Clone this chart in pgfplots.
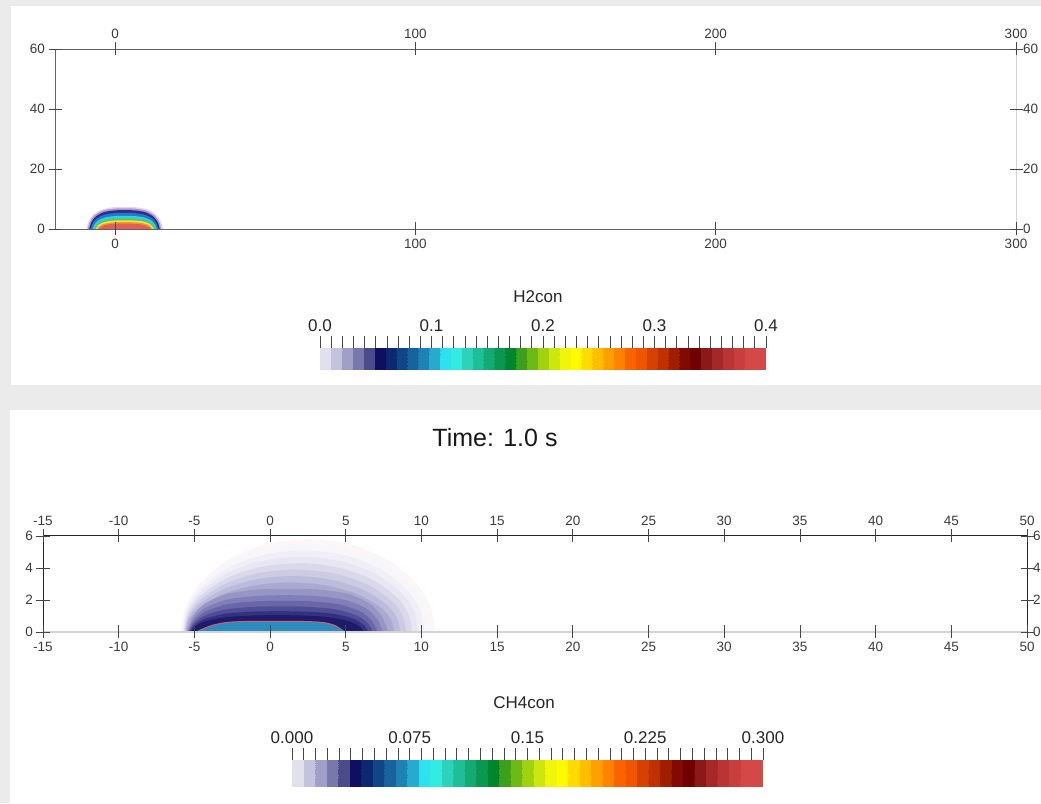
\documentclass[border=0pt]{standalone}
\usepackage{pgfplots}
\pgfplotsset{compat=1.18}
\usepackage{fontspec}
\setmainfont{Liberation Sans}
\usetikzlibrary{calc}

\definecolor{panelbg}{RGB}{235,235,235}
\definecolor{ticktext}{RGB}{60,60,60}
\definecolor{tickcol}{RGB}{70,70,70}
\definecolor{frameA}{RGB}{100,100,100}
\definecolor{frameB}{RGB}{210,210,210}
\definecolor{frameC}{RGB}{35,35,35}

% H2 plume bands (outer to inner)
\definecolor{hA}{RGB}{232,215,235}
\definecolor{hB}{RGB}{170,150,205}
\definecolor{hC}{RGB}{45,45,140}
\definecolor{hD}{RGB}{35,120,200}
\definecolor{hE}{RGB}{45,210,235}
\definecolor{hF}{RGB}{90,195,110}
\definecolor{hG}{RGB}{245,230,40}
\definecolor{hH}{RGB}{250,150,40}
\definecolor{hI}{RGB}{225,95,90}

% CH4 plume bands (outer to inner)
\definecolor{c0}{RGB}{252,246,247}
\definecolor{c1}{RGB}{247,246,251}
\definecolor{c2}{RGB}{240,239,247}
\definecolor{c3}{RGB}{231,230,242}
\definecolor{c4}{RGB}{218,217,236}
\definecolor{c5}{RGB}{204,203,228}
\definecolor{c6}{RGB}{188,187,219}
\definecolor{c7}{RGB}{170,169,208}
\definecolor{c8}{RGB}{150,149,196}
\definecolor{c9}{RGB}{128,127,183}
\definecolor{c10}{RGB}{104,103,168}
\definecolor{c11}{RGB}{78,77,150}
\definecolor{c12}{RGB}{52,50,128}
\definecolor{c13}{RGB}{30,28,105}
\definecolor{cblue}{RGB}{45,140,190}
\definecolor{cline}{RGB}{210,95,120}

\pgfplotsset{
  colormap={pvrainbow}{
    rgb255=(225,225,237) rgb255=(195,195,220) rgb255=(160,160,198) rgb255=(120,120,172)
    rgb255=(75,75,138)   rgb255=(15,15,95)    rgb255=(12,40,112)   rgb255=(16,70,135)
    rgb255=(22,100,158)  rgb255=(30,130,180)  rgb255=(38,170,208)  rgb255=(45,225,238)
    rgb255=(50,235,225)  rgb255=(45,210,185)  rgb255=(30,190,150)  rgb255=(20,170,115)
    rgb255=(10,152,80)   rgb255=(0,135,45)    rgb255=(60,160,28)   rgb255=(110,185,20)
    rgb255=(160,210,15)  rgb255=(205,230,15)  rgb255=(240,245,10)  rgb255=(255,250,0)
    rgb255=(255,220,0)   rgb255=(255,190,0)   rgb255=(255,160,0)   rgb255=(255,130,0)
    rgb255=(250,100,0)   rgb255=(240,85,0)    rgb255=(215,65,0)    rgb255=(190,50,0)
    rgb255=(160,30,0)    rgb255=(130,10,0)    rgb255=(112,0,0)     rgb255=(140,25,25)
    rgb255=(165,40,40)   rgb255=(185,52,52)   rgb255=(200,62,62)   rgb255=(212,72,72)
    rgb255=(212,72,72)
  },
  colormap access=piecewise constant,
  fieldaxis/.style={
    scale only axis,
    clip=false,
    axis line style={draw=none},
    tick align=center,
    major tick length=13pt,
    tick style={line width=0.8pt, color=tickcol},
    ticklabel style={font=\fontsize{13.5}{16}\selectfont, text=ticktext},
    /pgf/number format/assume math mode=true,
    tick pos=both,
  },
  barstyle/.style={
    scale only axis,
    axis line style={draw=none},
    ytick=\empty,
    xtick pos=right,
    xticklabel pos=upper,
    tick align=outside,
    major tick length=12pt,
    minor tick length=12pt,
    minor x tick num=9,
    tick style={line width=0.8pt, color=tickcol},
    xticklabel style={font=\fontsize{17}{20}\selectfont, text=black!85},
  },
}

\begin{document}
\begin{tikzpicture}[x=1pt,y=1pt]
\useasboundingbox (0pt,0pt) rectangle (1041pt,803pt);
\fill[panelbg] (0pt,0pt) rectangle (1041pt,803pt);
\fill[white] (11pt,418pt) rectangle (1041pt,797pt);
\fill[white] (10pt,0pt) rectangle (1041pt,393pt);

% ---------------- H2 concentration, full domain ----------------
\begin{axis}[fieldaxis,
  at={(55pt,574pt)}, anchor=south west,
  width=961pt, height=180pt,
  xmin=-20, xmax=300, ymin=0, ymax=60,
  xtick={0,100,200,300}, ytick={0,20,40,60},
  xticklabel pos=lower, yticklabel pos=left,
  point meta min=0, point meta max=0.4,
  colorbar horizontal,
  colorbar style={barstyle,
    at={($(parent axis.south west)+(265pt,-132pt)$)}, anchor=south west,
    width=446pt, height=22pt,
    xtick={0,0.1,0.2,0.3,0.4},
    xticklabels={0.0,0.1,0.2,0.3,0.4},
  },
]
\addplot[draw=none, fill=hA, smooth] coordinates {(-9.6,0) (-8.83,2.59) (-7.30,4.81) (-4.48,6.51) (-0.64,7.25) (3.2,7.4) (7.04,7.25) (10.88,6.51) (13.70,4.81) (15.23,2.59) (16.0,0)} \closedcycle;
\addplot[draw=none, fill=hB, smooth] coordinates {(-9.1,0) (-8.37,2.42) (-6.90,4.49) (-4.2,6.07) (-0.53,6.76) (3.15,6.9) (6.83,6.76) (10.5,6.07) (13.20,4.49) (14.67,2.42) (15.4,0)} \closedcycle;
\addplot[draw=none, fill=hC, smooth] coordinates {(-8.6,0) (-7.90,2.21) (-6.49,4.10) (-3.9,5.54) (-0.38,6.17) (3.15,6.3) (6.68,6.17) (10.2,5.54) (12.79,4.10) (14.20,2.21) (14.9,0)} \closedcycle;
\addplot[draw=none, fill=hD, smooth] coordinates {(-8.1,0) (-7.43,1.89) (-6.08,3.51) (-3.6,4.75) (-0.23,5.29) (3.15,5.4) (6.53,5.29) (9.9,4.75) (12.38,3.51) (13.73,1.89) (14.4,0)} \closedcycle;
\addplot[draw=none, fill=hE, smooth] coordinates {(-7.5,0) (-6.86,1.54) (-5.57,2.86) (-3.22,3.87) (-0.01,4.31) (3.2,4.4) (6.41,4.31) (9.62,3.87) (11.97,2.86) (13.26,1.54) (13.9,0)} \closedcycle;
\addplot[draw=none, fill=hF, smooth] coordinates {(-6.9,0) (-6.29,1.26) (-5.07,2.34) (-2.84,3.17) (0.21,3.53) (3.25,3.6) (6.30,3.53) (9.34,3.17) (11.57,2.34) (12.79,1.26) (13.4,0)} \closedcycle;
\addplot[draw=none, fill=hG, smooth] coordinates {(-6.4,0) (-5.82,1.02) (-4.66,1.89) (-2.54,2.55) (0.36,2.84) (3.25,2.9) (6.15,2.84) (9.04,2.55) (11.16,1.89) (12.32,1.02) (12.9,0)} \closedcycle;
\addplot[draw=none, fill=hH, smooth] coordinates {(-5.9,0) (-5.35,0.81) (-4.25,1.50) (-2.24,2.02) (0.51,2.25) (3.25,2.3) (6.0,2.25) (8.74,2.02) (10.75,1.50) (11.85,0.81) (12.4,0)} \closedcycle;
\addplot[draw=none, fill=hI, smooth] coordinates {(-5.4,0) (-4.88,0.63) (-3.85,1.17) (-1.96,1.58) (0.62,1.76) (3.2,1.8) (5.78,1.76) (8.36,1.58) (10.25,1.17) (11.28,0.63) (11.8,0)} \closedcycle;
% frame
\draw[frameA, line width=0.9pt] (rel axis cs:0,0) -- (rel axis cs:1,0);
\draw[frameA, line width=0.9pt] (rel axis cs:0,1) -- (rel axis cs:1,1);
\draw[frameA, line width=0.9pt] (rel axis cs:0,0) -- (rel axis cs:0,1);
\draw[frameB, line width=0.9pt] (rel axis cs:1,0) -- (rel axis cs:1,1);
\end{axis}
% upper and right tick labels
\begin{axis}[fieldaxis,
  at={(55pt,574pt)}, anchor=south west,
  width=961pt, height=180pt,
  xmin=-20, xmax=300, ymin=0, ymax=60,
  xtick={0,100,200,300}, ytick={0,20,40,60},
  xticklabel pos=upper, yticklabel pos=right,
  yticklabel style={xshift=-3pt},
]
\end{axis}

% ---------------- CH4 concentration, near field ----------------
\begin{axis}[fieldaxis,
  at={(43pt,171pt)}, anchor=south west,
  width=984pt, height=96pt,
  xmin=-15, xmax=50, ymin=0, ymax=6,
  xtick={-15,-10,...,50}, ytick={0,2,4,6},
  xticklabel pos=lower, yticklabel pos=left,
  point meta min=0, point meta max=0.3,
  colorbar horizontal,
  colorbar style={barstyle,
    at={($(parent axis.south west)+(249pt,-146pt)$)}, anchor=south west,
    width=471pt, height=27pt,
    xtick={0,0.075,0.15,0.225,0.3},
    xticklabels={0.000,0.075,0.15,0.225,0.300},
  },
]
\addplot[draw=none, fill=c0, smooth] coordinates {(-5.9,0) (-5.61,1.50) (-4.77,2.90) (-2.89,4.44) (-0.37,5.45) (2.5,5.8) (5.37,5.45) (7.89,4.44) (9.77,2.90) (10.61,1.50) (10.9,0)} \closedcycle;
\addplot[draw=none, fill=c1, smooth] coordinates {(-5.85,0) (-5.57,1.42) (-4.75,2.75) (-2.91,4.21) (-0.44,5.17) (2.38,5.5) (5.19,5.17) (7.66,4.21) (9.50,2.75) (10.32,1.42) (10.6,0)} \closedcycle;
\addplot[draw=none, fill=c2, smooth] coordinates {(-5.8,0) (-5.53,1.32) (-4.73,2.55) (-2.94,3.91) (-0.54,4.79) (2.2,5.1) (4.94,4.79) (7.34,3.91) (9.13,2.55) (9.93,1.32) (10.2,0)} \closedcycle;
\addplot[draw=none, fill=c3, smooth] coordinates {(-5.75,0) (-5.49,1.22) (-4.71,2.35) (-2.97,3.60) (-0.63,4.42) (2.03,4.7) (4.68,4.42) (7.02,3.60) (8.76,2.35) (9.54,1.22) (9.8,0)} \closedcycle;
\addplot[draw=none, fill=c4, smooth] coordinates {(-5.7,0) (-5.44,1.11) (-4.69,2.15) (-3.0,3.29) (-0.73,4.04) (1.85,4.3) (4.43,4.04) (6.70,3.29) (8.39,2.15) (9.14,1.11) (9.4,0)} \closedcycle;
\addplot[draw=none, fill=c5, smooth] coordinates {(-5.65,0) (-5.40,1.01) (-4.67,1.95) (-3.03,2.99) (-0.83,3.67) (1.68,3.9) (4.18,3.67) (6.38,2.99) (8.02,1.95) (8.75,1.01) (9.0,0)} \closedcycle;
\addplot[draw=none, fill=c6, smooth] coordinates {(-5.6,0) (-5.36,0.91) (-4.65,1.75) (-3.06,2.68) (-0.93,3.29) (1.5,3.5) (3.93,3.29) (6.06,2.68) (7.65,1.75) (8.36,0.91) (8.6,0)} \closedcycle;
\addplot[draw=none, fill=c7, smooth] coordinates {(-5.55,0) (-5.32,0.80) (-4.63,1.55) (-3.09,2.37) (-1.03,2.91) (1.33,3.1) (3.68,2.91) (5.74,2.37) (7.28,1.55) (7.97,0.80) (8.2,0)} \closedcycle;
\addplot[draw=none, fill=c8, smooth] coordinates {(-5.5,0) (-5.10,0.95) (-4.30,1.76) (-2.84,2.38) (-0.85,2.65) (1.15,2.7) (3.15,2.65) (5.14,2.38) (6.60,1.76) (7.40,0.95) (7.8,0)} \closedcycle;
\addplot[draw=none, fill=c9, smooth] coordinates {(-5.45,0) (-5.06,0.81) (-4.29,1.50) (-2.87,2.02) (-0.94,2.25) (1.0,2.3) (2.94,2.25) (4.87,2.02) (6.29,1.50) (7.06,0.81) (7.45,0)} \closedcycle;
\addplot[draw=none, fill=c10, smooth] coordinates {(-5.4,0) (-5.03,0.68) (-4.28,1.27) (-2.9,1.72) (-1.03,1.91) (0.85,1.95) (2.73,1.91) (4.6,1.72) (5.98,1.27) (6.73,0.68) (7.1,0)} \closedcycle;
\addplot[draw=none, fill=c11, smooth] coordinates {(-5.35,0) (-4.99,0.56) (-4.26,1.04) (-2.92,1.41) (-1.10,1.57) (0.73,1.6) (2.55,1.57) (4.37,1.41) (5.71,1.04) (6.44,0.56) (6.8,0)} \closedcycle;
\addplot[draw=none, fill=c12, smooth] coordinates {(-5.3,0) (-4.95,0.46) (-4.24,0.85) (-2.94,1.14) (-1.17,1.27) (0.6,1.3) (2.37,1.27) (4.14,1.14) (5.44,0.85) (6.15,0.46) (6.5,0)} \closedcycle;
\addplot[draw=none, fill=c13, smooth] coordinates {(-5.25,0) (-4.91,0.37) (-4.22,0.68) (-2.96,0.92) (-1.24,1.03) (0.48,1.05) (2.19,1.03) (3.91,0.92) (5.17,0.68) (5.86,0.37) (6.2,0)} \closedcycle;
\addplot[draw=none, fill=cblue, smooth] coordinates {(-4.95,0) (-4.5,0.2) (-3.8,0.42) (-2.8,0.6) (-1.5,0.66) (0.5,0.67) (2.5,0.65) (3.6,0.58) (4.3,0.4) (4.75,0.18) (4.95,0)} \closedcycle;
\addplot[cline, line width=1pt, smooth] coordinates {(-4.6,0.12) (-3.8,0.42) (-2.8,0.6) (-1.5,0.66) (0.5,0.67) (2.5,0.65) (3.6,0.58) (4.3,0.4) (4.6,0.2)};
% frame
\draw[frameB, line width=1.2pt] (rel axis cs:0,0) -- (rel axis cs:1,0);
\draw[frameC, line width=1pt] (rel axis cs:0,1) -- (rel axis cs:1,1);
\draw[frameC, line width=1pt] (rel axis cs:0,0) -- (rel axis cs:0,1);
\draw[frameC, line width=1pt] (rel axis cs:1,0) -- (rel axis cs:1,1);
\end{axis}
\begin{axis}[fieldaxis,
  at={(43pt,171pt)}, anchor=south west,
  width=984pt, height=96pt,
  xmin=-15, xmax=50, ymin=0, ymax=6,
  xtick={-15,-10,...,50}, ytick={0,2,4,6},
  xticklabel pos=upper, yticklabel pos=right,
  yticklabel style={xshift=-4pt},
]
\end{axis}

% titles
\node[font=\fontsize{17}{20}\selectfont, text=black!85] at (538pt,506pt) {H2con};
\node[font=\fontsize{17}{20}\selectfont, text=black!85] at (524pt,100pt) {CH4con};
\node[font=\fontsize{25}{30}\selectfont, text=black!90] at (495pt,365pt) {Time: 1.0 s};
\end{tikzpicture}
\end{document}
